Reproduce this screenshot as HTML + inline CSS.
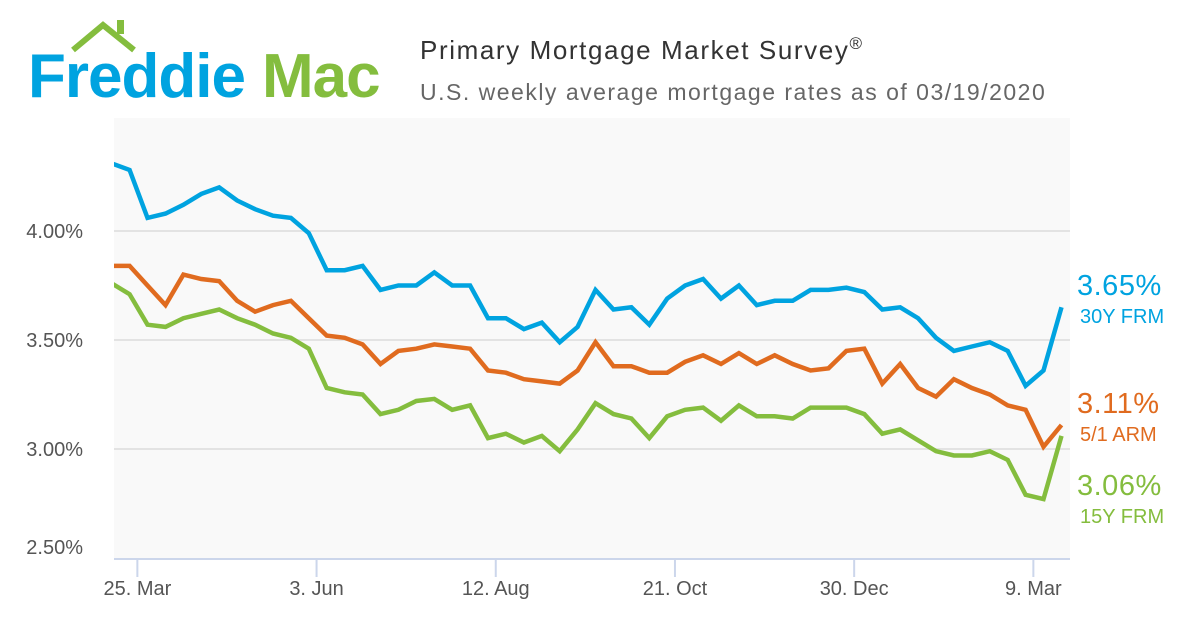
<!DOCTYPE html>
<html><head><meta charset="utf-8"><style>
body{margin:0;background:#fff;width:1200px;height:630px;overflow:hidden;font-family:"Liberation Sans",sans-serif}
svg text{font-family:"Liberation Sans",sans-serif}
</style></head><body>
<svg id="chart" width="1200" height="630">
  <g>
    <polyline points="73,50 103,25 134,50" fill="none" stroke="#84bd3e" stroke-width="6"/>
    <rect x="117" y="20" width="7" height="14" fill="#84bd3e"/>
    <text x="28" y="97" font-size="62" fill="#00a3e0" font-weight="bold" letter-spacing="-1">Freddie</text>
    <text x="262" y="97" font-size="62" fill="#84bd3e" font-weight="bold" letter-spacing="-1">Mac</text>
  </g>
  <text x="420" y="59" font-size="26" letter-spacing="1.6" fill="#333">Primary Mortgage Market Survey<tspan font-size="17" dy="-10">®</tspan></text>
  <text x="420" y="100" font-size="23" letter-spacing="1.5" fill="#666">U.S. weekly average mortgage rates as of 03/19/2020</text>
  <rect x="114" y="118" width="956" height="441" fill="#f9f9f9"/>
  <g id="grid"></g>
  <g id="yticks"></g>
  <g id="xaxis"></g>
  <g id="series"></g>
  <g id="labels"></g>
</svg>
<script>
const yTicks=[2.5,3.0,3.5,4.0];
const xTickLabels=["25. Mar","3. Jun","12. Aug","21. Oct","30. Dec","9. Mar"];
const xTickDays=[11,81,151,221,291,361];
const frm30=[4.31,4.28,4.06,4.08,4.12,4.17,4.20,4.14,4.10,4.07,4.06,3.99,3.82,3.82,3.84,3.73,3.75,3.75,3.81,3.75,3.75,3.60,3.60,3.55,3.58,3.49,3.56,3.73,3.64,3.65,3.57,3.69,3.75,3.78,3.69,3.75,3.66,3.68,3.68,3.73,3.73,3.74,3.72,3.64,3.65,3.60,3.51,3.45,3.47,3.49,3.45,3.29,3.36,3.65];
const arm51=[3.84,3.84,3.75,3.66,3.80,3.78,3.77,3.68,3.63,3.66,3.68,3.60,3.52,3.51,3.48,3.39,3.45,3.46,3.48,3.47,3.46,3.36,3.35,3.32,3.31,3.30,3.36,3.49,3.38,3.38,3.35,3.35,3.40,3.43,3.39,3.44,3.39,3.43,3.39,3.36,3.37,3.45,3.46,3.30,3.39,3.28,3.24,3.32,3.28,3.25,3.20,3.18,3.01,3.11];
const frm15=[3.76,3.71,3.57,3.56,3.60,3.62,3.64,3.60,3.57,3.53,3.51,3.46,3.28,3.26,3.25,3.16,3.18,3.22,3.23,3.18,3.20,3.05,3.07,3.03,3.06,2.99,3.09,3.21,3.16,3.14,3.05,3.15,3.18,3.19,3.13,3.20,3.15,3.15,3.14,3.19,3.19,3.19,3.16,3.07,3.09,3.04,2.99,2.97,2.97,2.99,2.95,2.79,2.77,3.06];
const seriesNames=["30Y FRM","5/1 ARM","15Y FRM"];

const NS="http://www.w3.org/2000/svg";
const x0=111.7, pxDay=17.92/7;
const xDay=d=>x0+d*pxDay;
const xWeek=i=>xDay(i*7);
const y=v=>449-(v-3)*218;
function mk(tag,attrs,parent){const e=document.createElementNS(NS,tag);for(const k in attrs)e.setAttribute(k,attrs[k]);parent.appendChild(e);return e;}
const grid=document.getElementById('grid'),yt=document.getElementById('yticks'),xa=document.getElementById('xaxis'),sg=document.getElementById('series'),lg=document.getElementById('labels');
yTicks.forEach(v=>{
  if(v>2.5){const l=mk('line',{x1:114,x2:1070,y1:y(v),y2:y(v),stroke:'#e3e3e3','stroke-width':2},grid);
  
  }
  const t=mk('text',{x:83,y:y(v)+(v===2.5?-4:7),'font-size':20,fill:'#555','text-anchor':'end'},yt);
  t.textContent=v.toFixed(2)+'%';
  
  
});
const ax=mk('line',{x1:114,x2:1070,y1:559,y2:559,stroke:'#ccd6eb','stroke-width':2},xa);


xTickLabels.forEach((lab,i)=>{
  const xx=xDay(xTickDays[i])-2.5;
  const tk=mk('line',{x1:xx,x2:xx,y1:559,y2:577,stroke:'#ccd6eb','stroke-width':2},xa);
  
  
  const t=mk('text',{x:xx,y:595,'font-size':20,fill:'#555','text-anchor':'middle'},xa);
  t.textContent=lab;
  
  
});
const clip=mk('clipPath',{id:'pc'},document.getElementById('chart'));
mk('rect',{x:114,y:118,width:956,height:441},clip);
const cols=['#00a3e0','#e06b1f','#84bd3e'];
const labY=[295,413,495];
[frm30,arm51,frm15].forEach((arr,si)=>{
  const p=mk('polyline',{points:arr.map((v,i)=>xWeek(i).toFixed(1)+','+y(v).toFixed(1)).join(' '),fill:'none',stroke:cols[si],'stroke-width':4.5,'stroke-linejoin':'miter','clip-path':'url(#pc)'},sg);
  
  
  const last=arr[arr.length-1];
  const t1=mk('text',{x:1077,y:labY[si],'font-size':29,'letter-spacing':0.5,fill:cols[si]},lg);
  t1.textContent=last.toFixed(2)+'%';
  
  
  const t2=mk('text',{x:1080,y:labY[si]+28,'font-size':20,fill:cols[si]},lg);
  t2.textContent=seriesNames[si];
  
  
});
</script>
</body></html>
